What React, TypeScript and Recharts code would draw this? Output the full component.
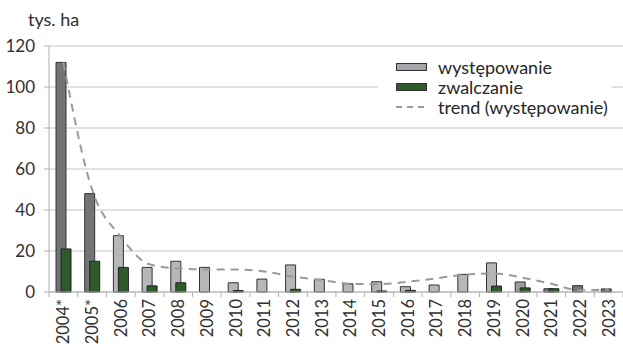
import React from 'react';
import { ComposedChart, Bar, Line, Cell, XAxis, YAxis, CartesianGrid, Legend } from 'recharts';

const years = [
  '2004*', '2005*', '2006', '2007', '2008', '2009', '2010', '2011', '2012', '2013',
  '2014', '2015', '2016', '2017', '2018', '2019', '2020', '2021', '2022', '2023',
];

const wystepowanie = [112, 48, 27.5, 12, 15, 12, 4.5, 6.3, 13.2, 6.2, 4, 5, 2.6, 3.4, 8.6, 14.2, 4.9, 1.6, 3.1, 1.5];
const zwalczanie = [21, 15, 12, 3, 4.5, 0, 0.7, 0, 1.3, 0, 0, 0.5, 0.8, 0, 0, 2.9, 2, 1.6, 0, 0];
const trend = [112, 50, 27, 13.5, 11.5, 11, 11, 10, 7.5, 5.8, 4, 3.8, 5, 6.7, 8.5, 9, 7, 4, 0.8, 1.3];

// shade of the grey bar per year (dark, mid, light)
const shade = ['d', 'd', 'l', 'l', 'l', 'l', 'l', 'l', 'l', 'l', 'l', 'l', 'l', 'l', 'l', 'l', 'm', 'd', 'd', 'd'];

const yTicks = [0, 20, 40, 60, 80, 100, 120];

const shadeColors: Record<string, string> = { d: '#737478', m: '#9c9da1', l: '#b6b7bb' };
const GREEN = '#2e5a2c';
const FONT = 'Lato, sans-serif';
const HALF = (623 - 49) / 20 / 2;

const data = years.map((year, i) => ({
  year,
  wystepowanie: wystepowanie[i],
  zwalczanie: zwalczanie[i],
  trend: trend[i],
}));

const YearTick = (props: any) => {
  const { x, y, payload, index } = props;
  const ty = y + 7;
  return (
    <g>
      <line x1={x - HALF} x2={x - HALF} y1={y} y2={y + 5} stroke="#b0b0b0" />
      {index === years.length - 1 && (
        <line x1={x + HALF} x2={x + HALF} y1={y} y2={y + 5} stroke="#b0b0b0" />
      )}
      <text
        x={x}
        y={ty}
        transform={`rotate(-90, ${x}, ${ty})`}
        textAnchor="end"
        dominantBaseline="central"
        fill="#303030"
        fontSize={16.5}
        fontFamily={FONT}
      >
        {payload.value}
      </text>
    </g>
  );
};

const LegendBox = () => (
  <div style={{ background: '#fff', padding: '3px 0 4px 18px', fontFamily: FONT, fontSize: 18, color: '#262626' }}>
    {[
      { label: 'występowanie', kind: 'rect', color: '#a4a5a9' },
      { label: 'zwalczanie', kind: 'rect', color: GREEN },
      { label: 'trend (występowanie)', kind: 'line', color: '#9a9a9a' },
    ].map((it) => (
      <div key={it.label} style={{ display: 'flex', alignItems: 'center', height: 20 }}>
        <svg width={31} height={10} style={{ marginRight: 11, flex: 'none' }}>
          {it.kind === 'rect' ? (
            <rect x={0.5} y={1.5} width={30} height={7} fill={it.color} stroke="#333" />
          ) : (
            <line x1={0} x2={31} y1={5} y2={5} stroke={it.color} strokeWidth={2} strokeDasharray="6 5" />
          )}
        </svg>
        <span style={{ whiteSpace: 'nowrap' }}>{it.label}</span>
      </div>
    ))}
  </div>
);

export default function App() {
  return (
    <div style={{ position: 'absolute', left: 0, top: 0, width: 623, height: 344, background: '#fff' }}>
      <div style={{ position: 'absolute', left: 28, top: 8, fontFamily: FONT, fontSize: 18, color: '#303030' }}>
        tys. ha
      </div>
      <ComposedChart
        width={623}
        height={344}
        data={data}
        margin={{ top: 46, right: 0, bottom: 0, left: 0 }}
        barSize={10}
        barGap={-5}
      >
        <CartesianGrid vertical={false} stroke="#c4c4c4" />
        <XAxis
          dataKey="year"
          height={52}
          axisLine={{ stroke: '#b0b0b0' }}
          tickLine={false}
          tickSize={0}
          tickMargin={0}
          interval={0}
          tick={<YearTick />}
        />
        <YAxis
          width={49}
          domain={[0, 120]}
          ticks={yTicks}
          axisLine={{ stroke: '#b0b0b0' }}
          tickLine={{ stroke: '#b0b0b0' }}
          tickSize={5}
          tickMargin={9}
          tick={{ fill: '#303030', fontSize: 17, fontFamily: FONT }}
        />
        <Legend
          layout="vertical"
          align="center"
          verticalAlign="middle"
          wrapperStyle={{ left: 378, top: 54, width: 234 }}
          content={<LegendBox />}
        />
        <Bar dataKey="wystepowanie" stroke="#333" strokeWidth={1} isAnimationActive={false}>
          {data.map((d, i) => (
            <Cell key={d.year} fill={shadeColors[shade[i]]} />
          ))}
        </Bar>
        <Bar dataKey="zwalczanie" fill={GREEN} stroke="#222" strokeWidth={1} isAnimationActive={false} />
        <Line
          dataKey="trend"
          type="monotone"
          stroke="#9a9a9a"
          strokeWidth={2}
          strokeDasharray="8 6"
          dot={false}
          activeDot={false}
          isAnimationActive={false}
        />
      </ComposedChart>
    </div>
  );
}
